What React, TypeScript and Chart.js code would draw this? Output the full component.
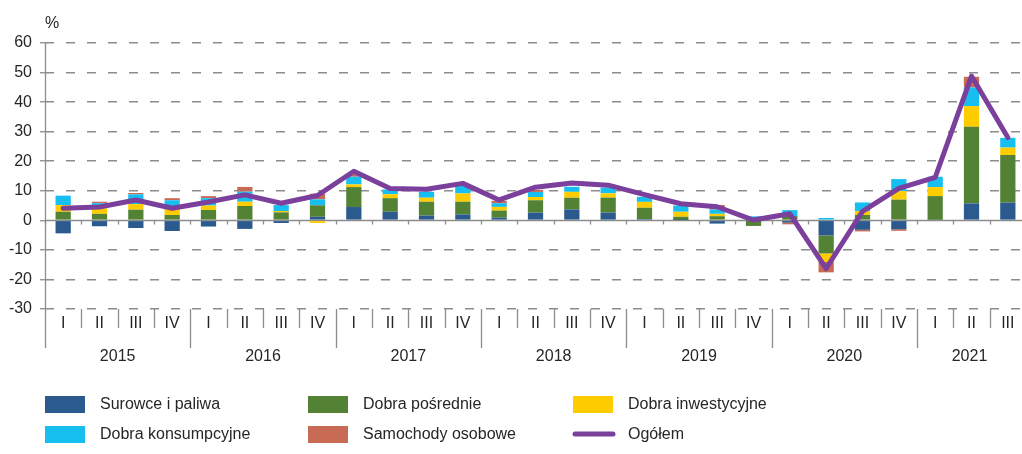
import React, { useEffect, useRef } from "react";
import { Chart, registerables } from "chart.js";

Chart.register(...registerables);

// ---------- DATA ----------
const years = ["2015", "2016", "2017", "2018", "2019", "2020", "2021"];
const quarterLabels = [
  "I", "II", "III", "IV",
  "I", "II", "III", "IV",
  "I", "II", "III", "IV",
  "I", "II", "III", "IV",
  "I", "II", "III", "IV",
  "I", "II", "III", "IV",
  "I", "II", "III",
];
const yearOfQuarter = [
  0, 0, 0, 0, 1, 1, 1, 1, 2, 2, 2, 2, 3, 3, 3, 3, 4, 4, 4, 4, 5, 5, 5, 5, 6, 6, 6,
];

const surowce = [
  -4.4, -2.0, -2.6, -3.6,
  -2.1, -2.9, -0.9, 1.2,
  4.5, 2.9, 1.6, 2.0,
  0.9, 2.6, 3.7, 2.6,
  0.45, 0.1, -1.1, -0.2,
  -0.8, -5.1, -3.2, -3.0,
  0.2, 5.75, 6.0,
];
const posrednie = [
  2.9, 2.2, 3.6, 1.8,
  3.5, 4.85, 2.7, 3.9,
  6.75, 4.6, 4.7, 4.3,
  2.4, 4.2, 3.95, 5.1,
  3.8, 1.1, 1.4, -1.7,
  1.45, -6.1, 1.8, 7.0,
  8.0, 25.9, 16.1,
];
const inwestycyjne = [
  2.25, 1.9, 1.9, 2.0,
  1.5, 1.45, 0.45, -0.9,
  0.9, 1.35, 1.35, 2.8,
  1.25, 1.1, 2.0, 1.45,
  2.0, 1.7, 0.8, 0,
  0, -2.9, 1.35, 2.9,
  3.05, 7.0, 2.5,
];
const konsumpcyjne = [
  3.2, 1.7, 3.3, 3.0,
  2.5, 3.4, 2.0, 2.0,
  2.6, 1.6, 2.0, 2.5,
  1.25, 1.7, 1.7, 1.9,
  1.7, 2.1, 1.5, 1.35,
  2.0, 0.8, 2.9, 4.05,
  3.5, 6.3, 3.3,
];
const samochody = [
  0, 0.5, 0.45, 0.7,
  0.7, 1.6, 0, 1.9,
  1.0, 0, 0, 0,
  0.8, 0.7, 0, 0,
  0, 0, 1.5, 0,
  -0.55, -3.5, -0.55, -0.55,
  0, 3.6, 0,
];
const ogolem = [
  4.05, 4.5, 6.9, 4.1,
  6.2, 8.6, 5.8, 8.4,
  16.6, 10.8, 10.5, 12.5,
  6.9, 11.2, 12.6, 11.9,
  8.7, 5.6, 4.6, 0.1,
  2.2, -16.3, 3.0, 10.8,
  14.5, 48.8, 28.0,
];

const yMin = -30;
const yMax = 60;
const yStep = 10;

// ---------- STYLE ----------
const FONT = "'Liberation Sans', Arial, sans-serif";
const TEXT = "#262626";
const AXIS = "#8c8c8c";
const C_BLUE = "#2b5a8e";
const C_GREEN = "#548235";
const C_YELLOW = "#ffcc00";
const C_CYAN = "#17bff0";
const C_RED = "#c96a55";
const C_PURPLE = "#7b3f9c";

const legendItems = [
  { label: "Surowce i paliwa", color: C_BLUE, line: false, col: 0, row: 0 },
  { label: "Dobra pośrednie", color: C_GREEN, line: false, col: 1, row: 0 },
  { label: "Dobra inwestycyjne", color: C_YELLOW, line: false, col: 2, row: 0 },
  { label: "Dobra konsumpcyjne", color: C_CYAN, line: false, col: 0, row: 1 },
  { label: "Samochody osobowe", color: C_RED, line: false, col: 1, row: 1 },
  { label: "Ogółem", color: C_PURPLE, line: true, col: 2, row: 1 },
];

const decor = {
  id: "decor",
  beforeDatasetsDraw(chart: any) {
    const { ctx, chartArea: ca, scales } = chart;
    const x = scales.x;
    const y = scales.y;
    const y0 = Math.round(y.getPixelForValue(0)) + 0.5;
    const n = quarterLabels.length;
    const step = (ca.right - ca.left) / n;
    ctx.save();
    ctx.strokeStyle = AXIS;
    ctx.lineWidth = 1.3;
    ctx.setLineDash([]);
    ctx.beginPath();
    ctx.moveTo(ca.left, y0);
    ctx.lineTo(ca.right, y0);
    for (let i = 0; i <= n; i++) {
      const xi = Math.round(x.getPixelForValue(0) - step / 2 + i * step) + 0.5;
      ctx.moveTo(xi, y0);
      ctx.lineTo(xi, y0 + 4);
    }
    ctx.stroke();
    ctx.restore();
  },
  afterDraw(chart: any) {
    const { ctx, chartArea: ca, scales } = chart;
    const x = scales.x;
    const n = quarterLabels.length;
    const step = (ca.right - ca.left) / n;
    ctx.save();
    ctx.strokeStyle = AXIS;
    ctx.lineWidth = 1.3;
    ctx.setLineDash([]);
    // left axis
    const lx = Math.round(ca.left) + 0.5;
    ctx.beginPath();
    ctx.moveTo(lx, ca.top);
    ctx.lineTo(lx, ca.bottom + 39);
    // category separators
    for (let i = 1; i <= n; i++) {
      const xi = Math.round(x.getPixelForValue(0) - step / 2 + i * step) + 0.5;
      const isYear = i < n ? yearOfQuarter[i] !== yearOfQuarter[i - 1] : true;
      ctx.moveTo(xi, ca.bottom);
      ctx.lineTo(xi, ca.bottom + (isYear ? 39 : 19));
    }
    ctx.stroke();

    // year labels
    ctx.fillStyle = TEXT;
    ctx.font = `16px ${FONT}`;
    ctx.textAlign = "center";
    ctx.textBaseline = "middle";
    years.forEach((yr, yi) => {
      const idx = yearOfQuarter
        .map((v, i) => (v === yi ? i : -1))
        .filter((i) => i >= 0);
      const first = x.getPixelForValue(idx[0]) - step / 2;
      const last = x.getPixelForValue(idx[idx.length - 1]) + step / 2;
      const right = Math.min(last, chart.width - 4);
      const cx = (first + right) / 2 + (last > chart.width ? 10 : 0);
      ctx.fillText(yr, cx, ca.bottom + 48);
    });

    // unit label
    ctx.fillText("%", ca.left + 7, 24);

    // legend
    const colX = [45, 308, 573];
    const rowY = [404, 434];
    legendItems.forEach((it) => {
      const sx = colX[it.col];
      const sy = rowY[it.row];
      if (it.line) {
        ctx.strokeStyle = it.color;
        ctx.lineWidth = 5;
        ctx.lineCap = "round";
        ctx.beginPath();
        ctx.moveTo(sx + 2, sy);
        ctx.lineTo(sx + 40, sy);
        ctx.stroke();
      } else {
        ctx.fillStyle = it.color;
        ctx.fillRect(sx, sy - 8, 40, 17);
      }
      ctx.fillStyle = TEXT;
      ctx.textAlign = "left";
      ctx.fillText(it.label, sx + 55, sy + 1);
    });
    ctx.restore();
  },
};

export default function App() {
  const ref = useRef<HTMLCanvasElement | null>(null);

  useEffect(() => {
    if (!ref.current) return;
    const barDs = (label: string, data: number[], color: string) => ({
      type: "bar" as const,
      label,
      data,
      backgroundColor: color,
      borderWidth: 0,
      stack: "bars",
      order: 1,
      barPercentage: 0.42,
      categoryPercentage: 1,
    });
    const chart = new Chart(ref.current, {
      type: "bar",
      data: {
        labels: quarterLabels,
        datasets: [
          barDs("Surowce i paliwa", surowce, C_BLUE),
          barDs("Dobra pośrednie", posrednie, C_GREEN),
          barDs("Dobra inwestycyjne", inwestycyjne, C_YELLOW),
          barDs("Dobra konsumpcyjne", konsumpcyjne, C_CYAN),
          barDs("Samochody osobowe", samochody, C_RED),
          {
            type: "line" as const,
            label: "Ogółem",
            data: ogolem,
            borderColor: C_PURPLE,
            backgroundColor: C_PURPLE,
            borderWidth: 5,
            pointRadius: 0,
            tension: 0,
            borderJoinStyle: "round",
            borderCapStyle: "round",
            stack: "line",
            order: 0,
          } as any,
        ],
      },
      options: {
        responsive: false,
        animation: false,
        devicePixelRatio: 1,
        layout: { padding: { top: 43, bottom: 105, left: 0, right: 0 } },
        plugins: {
          legend: { display: false },
          tooltip: { enabled: false },
          title: { display: false },
        },
        scales: {
          x: {
            type: "category",
            stacked: true,
            offset: true,
            grid: { display: false, drawTicks: false },
            border: { display: false },
            ticks: {
              autoSkip: false,
              maxRotation: 0,
              minRotation: 0,
              padding: 5,
              color: TEXT,
              font: { family: FONT, size: 16 },
            },
            afterFit(scale: any) {
              scale.height = 40;
            },
          },
          y: {
            stacked: true,
            min: yMin,
            max: yMax,
            ticks: {
              stepSize: yStep,
              padding: 8,
              color: TEXT,
              font: { family: FONT, size: 16 },
            },
            grid: {
              color: (c: any) =>
                c.tick && c.tick.value === 0 ? "rgba(0,0,0,0)" : AXIS,
              lineWidth: 1.5,
              drawTicks: true,
              tickLength: 5,
              tickColor: AXIS,
              tickWidth: 1.3,
              tickBorderDash: [],
            },
            border: { display: false, dash: [9, 12] },
            afterFit(scale: any) {
              scale.width = 45;
            },
          },
        },
      },
      plugins: [decor],
    });
    return () => chart.destroy();
  }, []);

  return (
    <div
      style={{
        position: "fixed",
        left: 0,
        top: 0,
        width: 1022,
        height: 454,
        overflow: "hidden",
        background: "#fff",
      }}
    >
      <canvas
        ref={ref}
        width={1026}
        height={454}
        style={{ display: "block", width: 1026, height: 454 }}
      />
    </div>
  );
}
